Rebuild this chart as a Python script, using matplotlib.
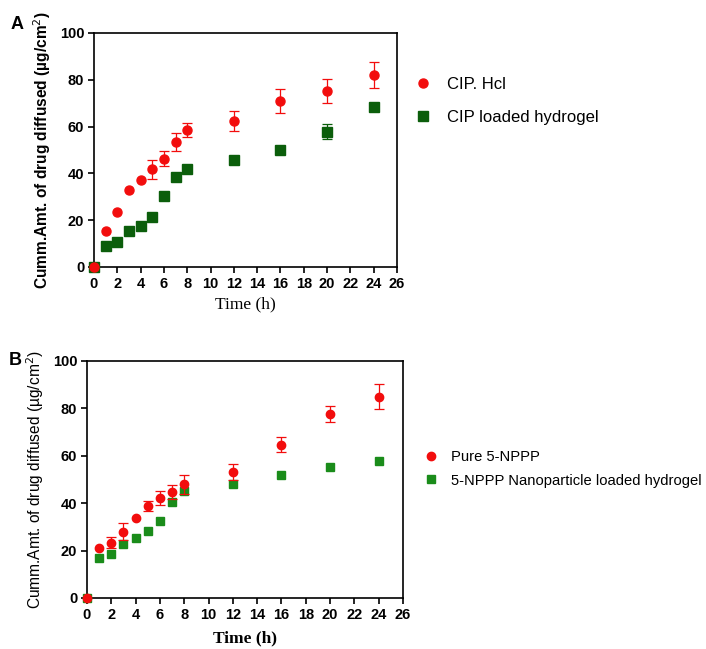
import numpy as np
import matplotlib
matplotlib.use("Agg")
from matplotlib import pyplot as plt

plt.rcParams['font.family'] = ['Liberation Sans', 'DejaVu Sans']

# Panel A data
time_a = [0, 1, 2, 3, 4, 5, 6, 7, 8, 12, 16, 20, 24]
cip_hcl = [0, 15.4, 23.5, 32.8, 37.0, 41.7, 46.3, 53.4, 58.7, 62.3, 70.8, 75.2, 82.0]
cip_hcl_err = [0, 0, 0, 0, 0, 4.2, 3.2, 3.8, 3.0, 4.2, 5.1, 5.0, 5.5]
cip_gel = [0, 9.0, 10.5, 15.2, 17.7, 21.4, 30.2, 38.5, 42.0, 45.9, 50.1, 57.8, 68.4]
cip_gel_err = [0, 0, 0, 0, 0, 0, 0, 0, 0, 0, 0, 3.1, 0]

# Panel B data
time_b = [0, 1, 2, 3, 4, 5, 6, 7, 8, 12, 16, 20, 24]
nppp = [0, 20.9, 23.3, 27.9, 33.6, 38.8, 42.1, 44.8, 47.9, 53.1, 64.6, 77.7, 84.9]
nppp_err = [0, 0, 2.4, 3.6, 0, 2.0, 2.9, 3.0, 3.9, 3.5, 3.2, 3.5, 5.3]
nppp_gel = [0, 16.7, 18.7, 22.9, 25.4, 28.4, 32.4, 40.4, 45.2, 48.3, 51.8, 55.3, 57.7]
nppp_gel_err = [0, 0, 0, 0, 0, 0, 0, 0, 0, 0, 0, 0, 0]

xticks = list(range(0, 27, 2))
yticks = [0, 20, 40, 60, 80, 100]

RED = '#f20d0d'
GREEN_A = '#0b5e0b'
GREEN_B = '#1a8c1a'

fig = plt.figure(figsize=(7.06, 6.49), dpi=100)
ax_a = fig.add_axes([0.1331, 0.5886, 0.4292, 0.3606])
ax_b = fig.add_axes([0.1232, 0.0786, 0.4476, 0.3652])


def draw_series(ax, x, y, err, marker, color, ms, label, z):
    ax.plot(x, y, marker, color=color, ms=ms, clip_on=False, zorder=z, label=label)
    # error bars only where an error was visible
    xs = [xi for xi, e in zip(x, err) if e > 0]
    ys = [yi for yi, e in zip(y, err) if e > 0]
    es = [e for e in err if e > 0]
    if es:
        ax.errorbar(xs, ys, yerr=es, fmt='none', ecolor=color, elinewidth=0.9,
                    capsize=3.5, capthick=0.9, zorder=z - 1)


def style_axes(ax, ylabel_weight, xlabel_weight, xpad):
    ax.set_xlim(0, 26)
    ax.set_ylim(0, 100)
    ax.set_xticks(xticks)
    ax.set_yticks(yticks)
    for sp in ax.spines.values():
        sp.set_linewidth(1.2)
    ax.tick_params(direction='out', length=4, width=1.2, labelsize=10.5, pad=3)
    for lab in ax.get_xticklabels() + ax.get_yticklabels():
        lab.set_fontweight('bold')
    ax.set_ylabel('Cumm.Amt. of drug diffused (\u00b5g/cm$^2$)', fontsize=11.2,
                  fontweight=ylabel_weight, labelpad=5)
    ax.set_xlabel('Time (h)', family='Liberation Serif', fontsize=12.5,
                  fontweight=xlabel_weight, labelpad=xpad)


# Panel A
draw_series(ax_a, time_a, cip_hcl, cip_hcl_err, 'o', RED, 6.5, 'CIP. Hcl', 5)
draw_series(ax_a, time_a, cip_gel, cip_gel_err, 's', GREEN_A, 6.5, 'CIP loaded hydrogel', 3)
style_axes(ax_a, 'bold', 'normal', 4)
ax_a.legend(loc='upper left', bbox_to_anchor=(1.01, 0.875), frameon=False,
            fontsize=12, handletextpad=0.9, labelspacing=1.05, handlelength=1.0)

# Panel B
draw_series(ax_b, time_b, nppp, nppp_err, 'o', RED, 6, 'Pure 5-NPPP', 5)
draw_series(ax_b, time_b, nppp_gel, nppp_gel_err, 's', GREEN_B, 6,
            '5-NPPP Nanoparticle loaded hydrogel', 3)
style_axes(ax_b, 'normal', 'bold', 6)
ax_b.legend(loc='upper left', bbox_to_anchor=(1.025, 0.68), frameon=False,
            fontsize=10.6, handletextpad=0.8, labelspacing=0.65, handlelength=1.0)

fig.text(0.015, 0.975, 'A', fontsize=13, fontweight='bold', va='top')
fig.text(0.012, 0.458, 'B', fontsize=13, fontweight='bold', va='top')

fig.savefig('out.png', dpi=100)
